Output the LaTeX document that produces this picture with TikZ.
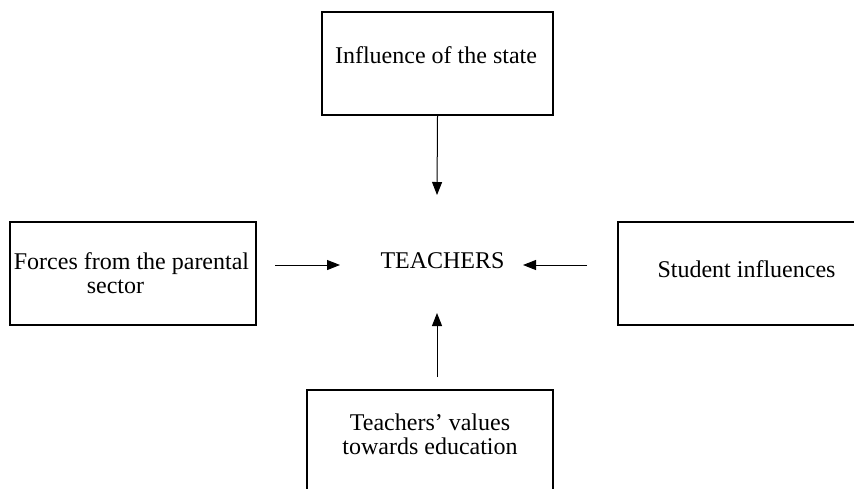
\documentclass[tikz,border=0pt]{standalone}
\usepackage{fontspec}
\setmainfont{Liberation Serif}
\usetikzlibrary{arrows.meta}

\begin{document}
\begin{tikzpicture}[x=0.5pt,y=-0.5pt,
  box/.style={draw,line width=0.6pt,inner sep=0pt},
  lbl/.style={align=center,inner sep=0pt,font=\fontsize{12}{12}\selectfont},
  arr/.style={line width=0.5pt,-{Triangle[length=6.5pt,width=5pt]}}]
  \useasboundingbox (0,0) rectangle (854,488);
  % the four boxes round the centre
  \node[box,minimum width=115.5pt,minimum height=51.5pt] (state) at (437.5,63.5) {};
  \node[box,minimum width=123pt,minimum height=51.5pt] (parents) at (133,273.5) {};
  \node[box,minimum width=131pt,minimum height=51.5pt] (students) at (749,273.5) {};
  \node[box,minimum width=123pt,minimum height=60pt] (values) at (430,450) {};
  % texts
  \node[lbl,anchor=base] (statetxt) at (436,63) {Influence of the state};
  \node[lbl] (parentstxt) at (131.5,273) {Forces from the parental\\sector\hspace*{16pt}};
  \node[lbl,anchor=base] (studentstxt) at (746.5,277) {Student influences};
  \node[lbl] (valuestxt) at (430,434) {Teachers' values\\towards education};
  \node[lbl,anchor=base] (teachers) at (442.5,268) {TEACHERS};
  % arrow ends
  \coordinate (topend) at (437,195);
  \coordinate (leftbeg) at (275,265); \coordinate (leftend) at (340,265);
  \coordinate (rightbeg) at (587,265); \coordinate (rightend) at (523,265);
  \coordinate (botbeg) at (437,377); \coordinate (botend) at (437,313);
  \draw[arr] (state.south) -- (topend);
  \draw[arr] (leftbeg) -- (leftend);
  \draw[arr] (rightbeg) -- (rightend);
  \draw[arr] (botbeg) -- (botend);
\end{tikzpicture}
\end{document}
